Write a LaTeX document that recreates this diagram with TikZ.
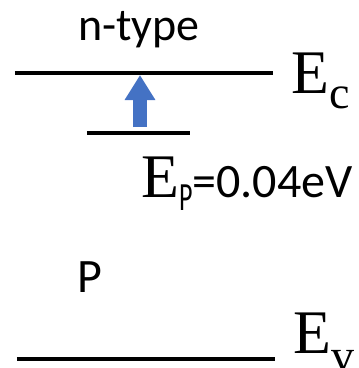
\documentclass[tikz,border=0pt]{standalone}
\usepackage{fontspec}
\setmainfont{Liberation Serif}
\newfontfamily\carlito{Carlito}
\usetikzlibrary{arrows.meta}
\definecolor{bandblue}{HTML}{4472C4}

\begin{document}
\begin{tikzpicture}[x=1pt, y=1pt,
  lvl/.style={line width=4pt, draw=black},
  sf/.style={font=\carlito\fontsize{46}{52}\selectfont, inner sep=0pt},
  en/.style={font=\fontsize{62}{70}\selectfont, inner sep=0pt, anchor=base west},
  e/.style={-{Triangle[length=25pt, width=29pt]}, line width=14pt, draw=bandblue},
]
\useasboundingbox (0,0) rectangle (359,368);
% band edges and donor level
\draw[lvl] (15,295) -- (273,295);
\draw[lvl] (87,235) -- (190,235);
\draw[lvl] (17,9) -- (275,9);
% ionisation arrow
\coordinate (donor) at (140,241);
\coordinate (cband) at (140,293);
\draw[e] (donor) -- (cband);
% labels
\node[sf, anchor=base] (ntype) at (139,327) {n-type};
\node[en] (ec) at (291,275) {E\raisebox{-15pt}{\fontsize{46}{50}\selectfont c}};
\node[en] (ep) at (141,171) {E\raisebox{-13pt}{\scalebox{0.65}[1]{\carlito\fontsize{40}{44}\selectfont P}}{\carlito\fontsize{48}{52}\selectfont =0.04eV}};
\node[sf, anchor=base west, font=\carlito\fontsize{48}{54}\selectfont] (pdop) at (77,75) {P};
\node[en] (ev) at (293,15) {E\raisebox{-18pt}{\fontsize{46}{50}\selectfont v}};
\end{tikzpicture}
\end{document}
